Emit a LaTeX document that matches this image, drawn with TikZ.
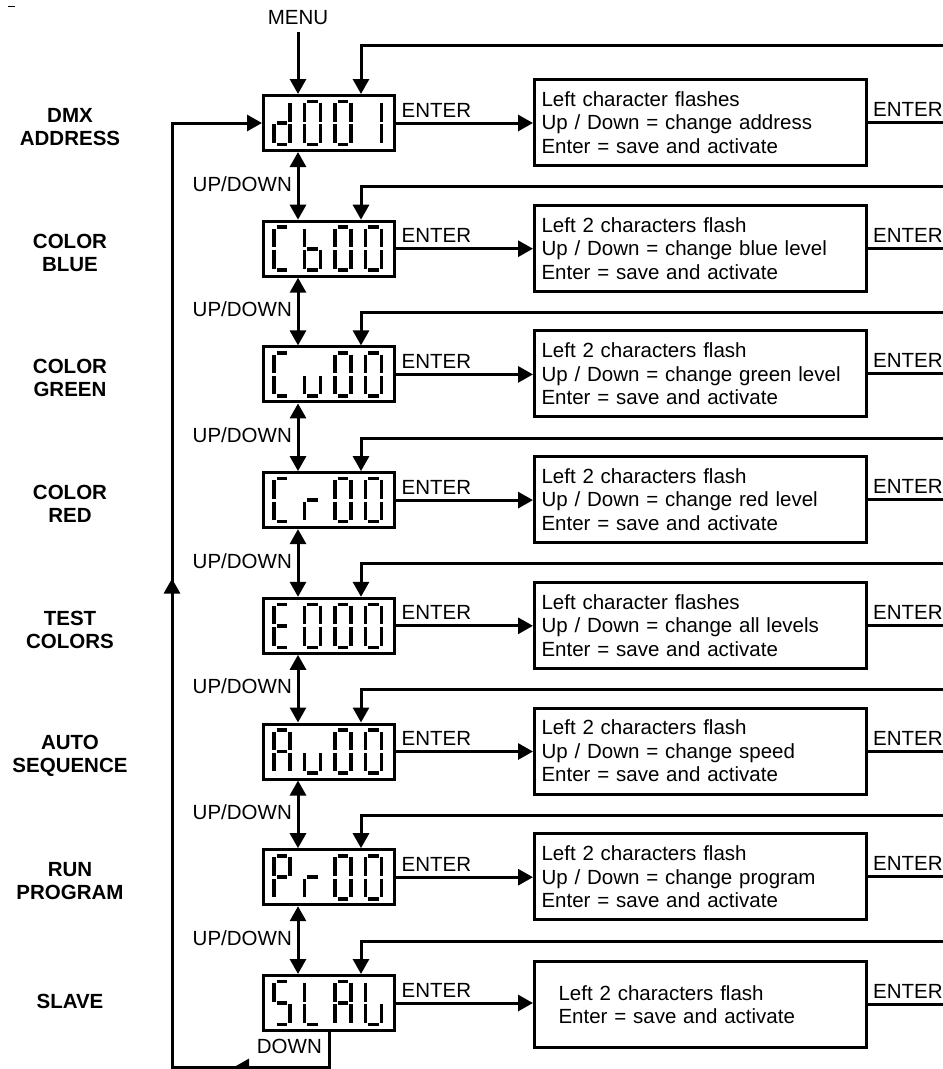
\documentclass[tikz,border=0pt]{standalone}
\usepackage{fontspec}
\setmainfont{Liberation Sans}
\usetikzlibrary{arrows.meta,decorations.markings}

\tikzset{
  ln/.style={line width=3pt},
  disp/.style={draw, line width=3pt, minimum width=131pt, minimum height=55pt, inner sep=0pt},
  infobox/.style={draw, line width=3pt, minimum width=332pt, minimum height=86pt,
    text width=318pt, align=left, inner xsep=7pt, inner ysep=0pt,
    font=\fontsize{20.5}{23.5}\selectfont},
  seg/.style={line width=3.6pt},
  lbl/.style={font=\fontsize{20.5}{24}\selectfont, inner sep=0pt},
  side/.style={font=\fontsize{20.5}{23}\selectfont\bfseries, align=center, inner sep=0pt},
  arr/.style={ln, -{Triangle[length=15pt,width=16pt]}},
  darr/.style={ln, {Triangle[length=15pt,width=16pt]}-{Triangle[length=15pt,width=16pt]}},
  loopmarks/.style={postaction={decorate, decoration={markings,
      mark=at position 0.106 with {\arrow{Triangle[length=15pt,width=16pt]}},
      mark=at position 0.555 with {\arrow{Triangle[length=15pt,width=16pt]}}}}},
}

% seven segment pieces (local coords, x right, y down)
\newcommand{\segma}{\draw[seg] (2.6,-21.5)--(13.4,-21.5);}
\newcommand{\segmb}{\draw[seg] (16,-19.9)--(16,-1.4);}
\newcommand{\segmc}{\draw[seg] (16,1.4)--(16,19.9);}
\newcommand{\segmd}{\draw[seg] (2.6,21.5)--(13.4,21.5);}
\newcommand{\segme}{\draw[seg] (0,1.4)--(0,19.9);}
\newcommand{\segmf}{\draw[seg] (0,-19.9)--(0,-1.4);}
\newcommand{\segmg}{\draw[seg] (2.6,0)--(13.4,0);}
% #1 display node, #2 x offset, #3 segment list
\newcommand{\sdigit}[3]{%
  \begin{scope}[shift={(#1.west)}, xshift=#2pt]
    \foreach \s in {#3} {\csname segm\s\endcsname}
  \end{scope}}
\newcommand{\sdisplay}[5]{%
  \sdigit{#1}{12}{#2}\sdigit{#1}{42.5}{#3}\sdigit{#1}{73}{#4}\sdigit{#1}{103.5}{#5}}

\begin{document}
\begin{tikzpicture}[x=1pt, y=-1pt]
\useasboundingbox (0,0) rectangle (943,1069);
\clip (0,0) rectangle (943,1069);

\draw[line width=1pt] (8,6) -- (15,6);

% displays
\node[disp] (d0) at (329,123) {};
\node[disp] (d1) at (329,248.7) {};
\node[disp] (d2) at (329,374.4) {};
\node[disp] (d3) at (329,500.1) {};
\node[disp] (d4) at (329,625.8) {};
\node[disp] (d5) at (329,751.5) {};
\node[disp] (d6) at (329,877.2) {};
\node[disp] (d7) at (329,1003) {};

\sdisplay{d0}{b,c,d,e,g}{a,b,c,d,e,f}{a,b,c,d,e,f}{b,c}
\sdisplay{d1}{a,d,e,f}{c,d,e,f,g}{a,b,c,d,e,f}{a,b,c,d,e,f}
\sdisplay{d2}{a,d,e,f}{c,d,e}{a,b,c,d,e,f}{a,b,c,d,e,f}
\sdisplay{d3}{a,d,e,f}{e,g}{a,b,c,d,e,f}{a,b,c,d,e,f}
\sdisplay{d4}{a,d,e,f,g}{a,b,c,d,e,f}{a,b,c,d,e,f}{a,b,c,d,e,f}
\sdisplay{d5}{a,b,c,e,f,g}{c,d,e}{a,b,c,d,e,f}{a,b,c,d,e,f}
\sdisplay{d6}{a,b,e,f,g}{e,g}{a,b,c,d,e,f}{a,b,c,d,e,f}
\sdisplay{d7}{a,c,d,f,g}{d,e,f}{a,b,c,e,f,g}{c,d,e,f}

% side labels
\node[side] (s0) at (70,127) {DMX\\ADDRESS};
\node[side] (s1) at (70,252.7) {COLOR\\BLUE};
\node[side] (s2) at (70,378.4) {COLOR\\GREEN};
\node[side] (s3) at (70,504.1) {COLOR\\RED};
\node[side] (s4) at (70,629.8) {TEST\\COLORS};
\node[side] (s5) at (70,755.5) {AUTO\\SEQUENCE};
\node[side] (s6) at (70,881.2) {RUN\\PROGRAM};
\node[side] (s7) at (70,1001) {SLAVE};

% info boxes
\node[infobox] (b0) at (700.5,122.5) {Left character flashes\\Up / Down = change address\\Enter = save and activate};
\node[infobox] (b1) at (700.5,248.2) {Left 2 characters flash\\Up / Down = change blue level\\Enter = save and activate};
\node[infobox] (b2) at (700.5,373.9) {Left 2 characters flash\\Up / Down = change green level\\Enter = save and activate};
\node[infobox] (b3) at (700.5,499.6) {Left 2 characters flash\\Up / Down = change red level\\Enter = save and activate};
\node[infobox] (b4) at (700.5,625.3) {Left character flashes\\Up / Down = change all levels\\Enter = save and activate};
\node[infobox] (b5) at (700.5,751) {Left 2 characters flash\\Up / Down = change speed\\Enter = save and activate};
\node[infobox] (b6) at (700.5,876.7) {Left 2 characters flash\\Up / Down = change program\\Enter = save and activate};
\node[infobox, text width=284pt, inner xsep=24pt] (b7) at (700.5,1004.5) {Left 2 characters flash\\Enter = save and activate};

% per-row connectors
\foreach \i/\t in {0/45,1/186.7,2/312.4,3/438.1,4/563.8,5/689.5,6/815.2,7/941} {
  \draw[arr] (d\i.east) -- (d\i.east -| b\i.west);
  \node[lbl, anchor=base west] (el\i) at ([xshift=5.5pt, yshift=6pt]d\i.east) {ENTER};
  \coordinate (r\i) at (950,0);
  \draw[ln] (b\i.east) -- (b\i.east -| r\i);
  \node[lbl, anchor=base west] (er\i) at ([xshift=5pt, yshift=6pt]b\i.east) {ENTER};
  \coordinate (t\i) at (950,\t);
  \draw[arr] (t\i) -| ([xshift=32pt]d\i.north);
}

% MENU
\node[lbl, anchor=base] (menu) at (298,24) {MENU};
\draw[arr] ([yshift=-8pt]menu.base) -- ([xshift=-31pt]d0.north);

% UP/DOWN
\foreach \i/\j/\y in {0/1/191,1/2/316.7,2/3/442.4,3/4/568.1,4/5/693.8,5/6/819.5,6/7/945.2} {
  \draw[darr] ([xshift=-31pt]d\i.south) -- ([xshift=-31pt]d\j.north);
  \node[lbl, anchor=base east] (ud\i) at (292,\y) {UP/DOWN};
}

% loop back
\node[lbl, anchor=base east] (down) at (322,1053) {DOWN};
\coordinate (lb) at (172,1067);
\draw[arr, loopmarks] (d7.south) |- (lb) |- (d0.west);

\end{tikzpicture}
\end{document}
